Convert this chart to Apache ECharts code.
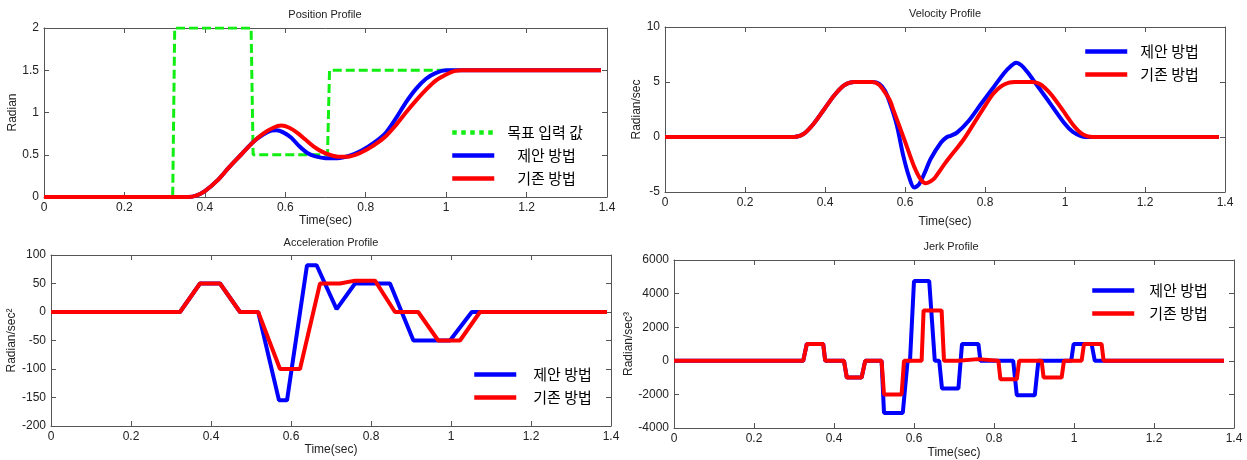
<!DOCTYPE html>
<html>
<head>
<meta charset="utf-8">
<script src="https://cdn.jsdelivr.net/npm/echarts@6/dist/echarts.min.js"></script>
<style>
html, body { margin: 0; padding: 0; background: #fff; }
#main { width: 1247px; height: 460px; }
</style>
</head>
<body>
<div id="main"></div>
<script>
// ---- data: [time(sec), value] ----
var posTarget = [[0,0],[0.32,0],[0.325,2],[0.515,2],[0.52,0.5],[0.705,0.5],[0.71,1.5],[1.385,1.5]];
var posNew = [[0,0],[0.36,0],[0.38,0.02],[0.40,0.07],[0.43,0.19],[0.46,0.35],[0.49,0.5],[0.52,0.65],[0.545,0.74],
  [0.565,0.785],[0.578,0.79],[0.595,0.765],[0.615,0.7],[0.635,0.6],[0.655,0.52],[0.675,0.48],[0.70,0.46],[0.73,0.46],
  [0.76,0.49],[0.79,0.55],[0.82,0.64],[0.85,0.76],[0.875,0.93],[0.9,1.12],[0.925,1.28],[0.95,1.4],[0.975,1.47],
  [1.0,1.5],[1.385,1.5]];
var posOld = [[0,0],[0.36,0],[0.38,0.02],[0.40,0.07],[0.43,0.19],[0.46,0.35],[0.49,0.5],[0.52,0.65],[0.545,0.75],
  [0.57,0.82],[0.59,0.845],[0.61,0.82],[0.63,0.76],[0.65,0.68],[0.67,0.6],[0.69,0.54],[0.71,0.5],[0.735,0.475],
  [0.76,0.48],[0.79,0.53],[0.82,0.61],[0.85,0.72],[0.875,0.85],[0.9,1.0],[0.925,1.14],[0.95,1.27],[0.975,1.38],
  [1.0,1.45],[1.02,1.49],[1.04,1.5],[1.385,1.5]];

var velNew = [[0,0],[0.3225,0],[0.3475,0.31],[0.3725,1.25],[0.3975,2.5],[0.4225,3.75],[0.4475,4.69],[0.4725,5],
  [0.518,5],[0.535,4.85],[0.55,4.2],[0.565,2.8],[0.58,1.0],[0.595,-1.6],[0.61,-3.6],[0.623,-4.6],[0.635,-4.3],
  [0.65,-3.2],[0.664,-2.0],[0.69,-0.5],[0.705,0],[0.714,0.1],[0.73,0.4],[0.76,1.5],[0.79,3.0],[0.82,4.45],
  [0.8475,5.8],[0.865,6.45],[0.878,6.75],[0.89,6.55],[0.906,5.9],[0.93,4.7],[0.96,3.2],[0.9975,1.3],[1.02,0.45],
  [1.04,0.08],[1.052,0],[1.385,0]];
var velOld = [[0,0],[0.3225,0],[0.3475,0.31],[0.3725,1.25],[0.3975,2.5],[0.4225,3.75],[0.4475,4.69],[0.4725,5],
  [0.518,5],[0.535,4.75],[0.55,4.05],[0.5625,3.3],[0.5725,2.3],[0.6,-0.4],[0.6225,-2.65],[0.64,-3.9],[0.652,-4.2],
  [0.665,-4.0],[0.6725,-3.8],[0.7,-2.4],[0.7225,-1.35],[0.746,-0.25],[0.77,1.1],[0.796,2.6],[0.82,3.9],[0.84,4.6],
  [0.86,4.95],[0.875,5],[0.918,5],[0.935,4.85],[0.95,4.45],[0.968,3.75],[0.996,2.35],[1.0225,1.0],[1.04,0.35],
  [1.055,0.08],[1.07,0],[1.385,0]];

var accNew = [[0,0],[0.3225,0],[0.3725,50],[0.4225,50],[0.4725,0],[0.518,0],[0.57,-155],[0.59,-155],[0.64,82],
  [0.664,82],[0.714,5],[0.76,50],[0.8475,50],[0.906,-50],[0.9975,-50],[1.052,0],[1.39,0]];
var accOld = [[0,0],[0.3225,0],[0.3725,50],[0.4225,50],[0.4725,0],[0.518,0],[0.5725,-100],[0.6225,-100],[0.6725,50],
  [0.7225,50],[0.76,55],[0.81,55],[0.86,0],[0.918,0],[0.968,-50],[1.0225,-50],[1.0725,0],[1.39,0]];

var jerkNew = [[0,0],[0.323,0],[0.332,1000],[0.373,1000],[0.378,0],[0.425,0],[0.432,-1000],[0.469,-1000],[0.478,0],
  [0.519,0],[0.525,-3100],[0.572,-3100],[0.584,0],[0.59,0],[0.6,4750],[0.638,4750],[0.652,0],[0.663,0],[0.67,-1650],
  [0.711,-1650],[0.72,1000],[0.761,1000],[0.766,0],[0.848,0],[0.857,-2050],[0.902,-2050],[0.911,0],[0.993,0],
  [0.999,1000],[1.044,1000],[1.052,0],[1.375,0]];
var jerkOld = [[0,0],[0.323,0],[0.332,1000],[0.373,1000],[0.378,0],[0.425,0],[0.432,-1000],[0.469,-1000],[0.478,0],
  [0.519,0],[0.525,-2000],[0.569,-2000],[0.575,0],[0.619,0],[0.624,3000],[0.669,3000],[0.675,0],[0.711,0],
  [0.716,100],[0.76,100],[0.765,0],[0.811,0],[0.816,-1100],[0.857,-1100],[0.863,0],[0.919,0],[0.924,-1000],
  [0.969,-1000],[0.975,0],[1.019,0],[1.025,1000],[1.069,1000],[1.074,0],[1.375,0]];

// axis ranges [min, max, interval]
var timeRange = [0, 1.4, 0.2];
var posRange = [0, 2, 0.5];
var velRange = [-5, 10, 5];
var accRange = [-200, 100, 50];
var jerkRange = [-4000, 6000, 2000];

var titles = ['Position Profile', 'Velocity Profile', 'Acceleration Profile', 'Jerk Profile'];
var yNames = ['Radian', 'Radian/sec', 'Radian/sec²', 'Radian/sec³'];
var nameTarget = '목표 입력 값', nameNew = '제안 방법', nameOld = '기존 방법';

var LATIN = '"Liberation Sans", Arial, sans-serif';
var KOREAN = '"Noto Sans CJK KR", sans-serif';
var AXIS_COLOR = '#555';

// plot boxes: left, top, width, height
var grids = [
  { left: 44, top: 28, width: 563, height: 169 },
  { left: 665, top: 27, width: 560, height: 165 },
  { left: 51, top: 255, width: 560, height: 171 },
  { left: 674, top: 260, width: 560, height: 168 }
];
var yRanges = [posRange, velRange, accRange, jerkRange];
var xNameGap = [16, 24, 14, 19];
var yNameGap = [20, 11, 29, 36];

var xAxes = [], yAxes = [];
grids.forEach(function (g, i) {
  ['bottom', 'top'].forEach(function (pos) {
    xAxes.push({
      type: 'value', gridIndex: i, position: pos,
      min: timeRange[0], max: timeRange[1], interval: timeRange[2],
      name: pos == 'bottom' ? 'Time(sec)' : '',
      nameLocation: 'middle', nameGap: xNameGap[i],
      nameTextStyle: { color: '#222', fontSize: 12, fontFamily: LATIN },
      axisLine: { show: true, onZero: false, lineStyle: { color: AXIS_COLOR, width: 1 } },
      axisTick: { show: true, inside: true, length: 5, lineStyle: { color: AXIS_COLOR } },
      axisLabel: { show: pos == 'bottom', color: '#222', fontSize: 12, fontFamily: LATIN, margin: 5,
        formatter: function (v) { return String(+v.toFixed(1)); } },
      splitLine: { show: false }
    });
  });
  ['left', 'right'].forEach(function (pos) {
    var r = yRanges[i];
    yAxes.push({
      type: 'value', gridIndex: i, position: pos,
      min: r[0], max: r[1], interval: r[2],
      name: pos == 'left' ? yNames[i] : '',
      nameLocation: 'middle', nameGap: yNameGap[i], nameRotate: 90,
      nameTextStyle: { color: '#222', fontSize: 12, fontFamily: LATIN },
      axisLine: { show: true, onZero: false, lineStyle: { color: AXIS_COLOR, width: 1 } },
      axisTick: { show: true, inside: true, length: 5, lineStyle: { color: AXIS_COLOR } },
      axisLabel: { show: pos == 'left', color: '#222', fontSize: 12, fontFamily: LATIN, margin: 5,
        formatter: function (v) { return String(+v.toFixed(1)); } },
      splitLine: { show: false }
    });
  });
});

function line(name, data, idx, color, smooth) {
  return {
    name: name, type: 'line', data: data,
    xAxisIndex: idx * 2, yAxisIndex: idx * 2,
    symbol: 'none', smooth: smooth ? 0.3 : false,
    lineStyle: { color: color, width: 4 }, itemStyle: { color: color },
    animation: false
  };
}

var series = [
  {
    name: nameTarget, type: 'line', data: posTarget, xAxisIndex: 0, yAxisIndex: 0, symbol: 'none',
    lineStyle: { color: '#11ee11', width: 3, type: [9, 4] }, itemStyle: { color: '#11ee11' }, animation: false
  },
  line(nameNew, posNew, 0, '#0000ff', true),
  line(nameOld, posOld, 0, '#ff0000', true),
  line(nameNew, velNew, 1, '#0000ff', true),
  line(nameOld, velOld, 1, '#ff0000', true),
  line(nameNew, accNew, 2, '#0000ff', false),
  line(nameOld, accOld, 2, '#ff0000', false),
  line(nameNew, jerkNew, 3, '#0000ff', false),
  line(nameOld, jerkOld, 3, '#ff0000', false)
];

// legend: thick plain line samples, no symbol
function legendAt(left, top, names, pads) {
  return {
    orient: 'vertical', left: left, top: top,
    itemWidth: 42, itemHeight: 14, itemGap: 8, selectedMode: false,
    itemStyle: { opacity: 0 },
    textStyle: { color: '#000', fontSize: 15, fontFamily: KOREAN },
    data: names.map(function (n, k) {
      var item = { name: n, textStyle: { padding: [0, 0, 0, pads[k]] }, lineStyle: { width: 4.5 } };
      if (n == nameTarget) item.lineStyle = { type: 'dotted', width: 4.5 };
      return item;
    })
  };
}

var graphics = [
  [325, 15], [945, 14], [331, 243], [951, 247]
].map(function (p, i) {
  return {
    type: 'text', x: p[0], y: p[1],
    style: { text: titles[i], fill: '#222', font: '11px ' + LATIN, align: 'center', verticalAlign: 'middle' }
  };
});

var myChart = echarts.init(document.getElementById('main'));
var option = {
  backgroundColor: '#fff',
  animation: false,
  grid: grids,
  xAxis: xAxes,
  yAxis: yAxes,
  legend: [
    legendAt(445, 120, [nameTarget, nameNew, nameOld], [8, 18, 18]),
    legendAt(1078, 39, [nameNew, nameOld], [8, 8]),
    legendAt(467, 362, [nameNew, nameOld], [12, 12]),
    legendAt(1085, 278, [nameNew, nameOld], [10, 10])
  ],
  graphic: graphics,
  series: series
};
myChart.setOption(option);
</script>
</body>
</html>
